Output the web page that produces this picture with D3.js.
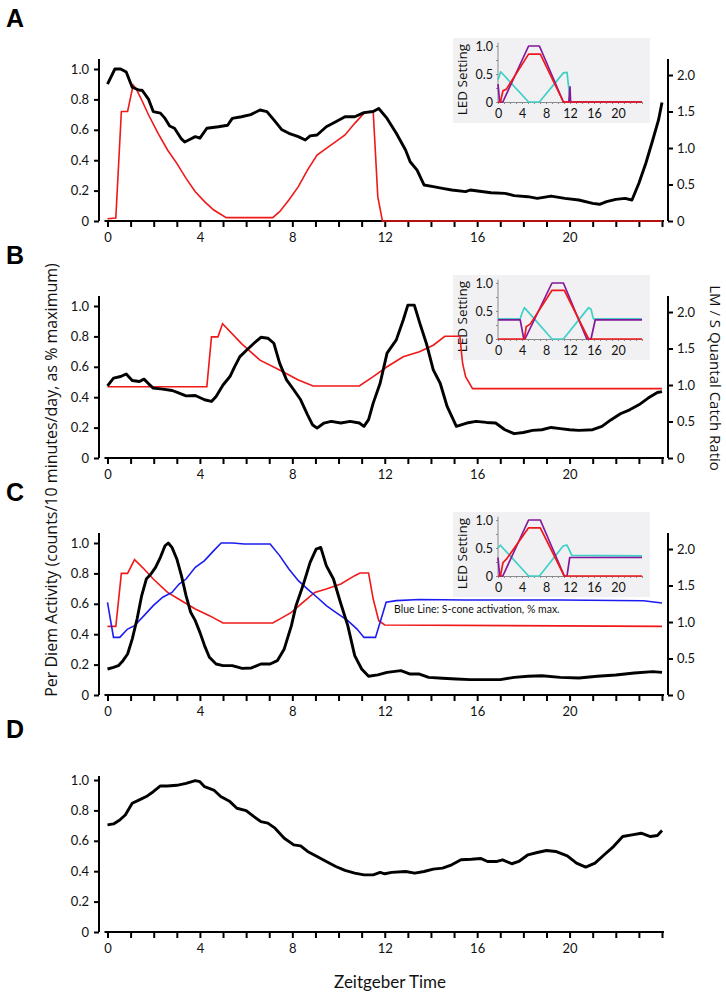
<!DOCTYPE html>
<html><head><meta charset="utf-8">
<script src="https://cdn.jsdelivr.net/npm/d3@7"></script>
<style>
body{margin:0;background:#fff;}
svg{display:block;}
</style></head><body>
<svg id="chart" width="726" height="995"></svg>
<script>
// ---------- DATA ----------
const hourLabels = [0,4,8,12,16,20];
const hourTicks = d3.range(0,25);
const leftTicks = [0,0.2,0.4,0.6,0.8,1.0];
const rightTicks = [0,0.5,1.0,1.5,2.0];
const insetYLabels = [0,0.5,1.0];
const panelLetters = ["A","B","C","D"];

// Panel A
const activityA = [[0,0.90],[0.32,1.0],[0.57,1.0],[0.81,0.98],[1.07,0.88],[1.38,0.86],[1.5,0.86],[1.78,0.80],[1.98,0.72],[2.29,0.71],[2.49,0.675],[2.69,0.625],[2.9,0.61],[3.2,0.54],[3.34,0.52],[3.6,0.54],[3.8,0.555],[4.0,0.545],[4.3,0.61],[4.8,0.62],[5.2,0.63],[5.4,0.675],[5.8,0.686],[6.2,0.70],[6.6,0.73],[6.9,0.72],[7.2,0.665],[7.55,0.60],[7.85,0.577],[8.26,0.555],[8.56,0.533],[8.77,0.56],[9.07,0.566],[9.47,0.62],[9.88,0.653],[10.28,0.686],[10.7,0.686],[11.1,0.713],[11.5,0.72],[11.74,0.74],[12.1,0.675],[12.5,0.577],[12.9,0.467],[13.1,0.39],[13.4,0.335],[13.7,0.237],[14.1,0.226],[14.5,0.215],[14.9,0.204],[15.5,0.193],[15.7,0.204],[16.6,0.186],[17.2,0.182],[17.6,0.167],[18.2,0.16],[18.6,0.149],[19.2,0.164],[19.8,0.149],[20.4,0.138],[21.0,0.116],[21.3,0.11],[21.6,0.127],[22.0,0.142],[22.4,0.149],[22.7,0.138],[23.0,0.248],[23.3,0.38],[23.6,0.533],[23.85,0.665],[24.0,0.78]];
const ratioA = [[0,0.03],[0.36,0.04],[0.6,1.5],[0.87,1.5],[1.11,1.863],[1.23,1.817],[1.48,1.658],[1.78,1.452],[2.19,1.20],[2.6,0.973],[3.0,0.79],[3.4,0.584],[3.8,0.40],[4.2,0.265],[4.6,0.15],[5.14,0.046],[7.15,0.046],[7.45,0.128],[7.85,0.288],[8.26,0.47],[8.66,0.70],[9.07,0.904],[9.47,0.995],[9.88,1.087],[10.28,1.178],[10.7,1.338],[11.1,1.475],[11.4,1.498],[11.5,1.498],[11.7,0.33],[11.9,0],[24,0]];
const insetACyan = [[0,0.4],[0.45,0.54],[5.1,0],[6.9,0],[10.9,0.52],[11.5,0.53],[12.05,0],[24,0]];
const insetAPurple = [[0,0.32],[0.28,0],[0.8,0],[5.1,1.0],[6.9,1.0],[10.9,0],[11.8,0],[12.0,0.27],[12.1,0],[24,0]];
const insetARed = [[0,0],[0.4,0],[0.83,0.2],[1.4,0.23],[5.1,0.855],[7.05,0.855],[10.9,0],[24,0]];

// Panel B
const activityB = [[0,0.475],[0.26,0.525],[0.57,0.536],[0.81,0.553],[1.07,0.51],[1.38,0.503],[1.58,0.519],[1.78,0.488],[1.98,0.46],[2.39,0.453],[2.8,0.444],[3.1,0.427],[3.4,0.409],[3.8,0.411],[4.2,0.383],[4.5,0.372],[4.7,0.405],[5.0,0.48],[5.3,0.536],[5.5,0.60],[5.73,0.667],[6.03,0.711],[6.34,0.755],[6.64,0.794],[6.94,0.788],[7.2,0.755],[7.45,0.624],[7.75,0.514],[8.06,0.449],[8.36,0.383],[8.66,0.284],[8.87,0.219],[9.07,0.197],[9.37,0.23],[9.68,0.241],[10.1,0.23],[10.5,0.241],[10.9,0.23],[11.1,0.208],[11.3,0.252],[11.5,0.361],[11.8,0.492],[12.1,0.69],[12.5,0.777],[12.8,0.908],[13.0,1.006],[13.28,1.006],[13.52,0.886],[13.8,0.755],[14.1,0.58],[14.4,0.492],[14.7,0.339],[15.1,0.208],[15.55,0.23],[15.95,0.241],[16.4,0.234],[16.8,0.23],[17.2,0.186],[17.6,0.16],[18.0,0.168],[18.4,0.182],[18.8,0.186],[19.2,0.201],[19.6,0.193],[20.0,0.186],[20.4,0.182],[21.0,0.186],[21.4,0.208],[21.8,0.252],[22.2,0.291],[22.6,0.317],[23.0,0.35],[23.4,0.394],[23.8,0.431],[24.0,0.437]];
const ratioB = [[0,0.977],[4.3,0.977],[4.5,1.66],[4.78,1.66],[4.98,1.84],[5.8,1.568],[6.6,1.34],[7.45,1.205],[8.26,1.068],[8.9,0.986],[10.9,0.986],[11.5,1.114],[12.1,1.25],[12.8,1.386],[13.5,1.455],[14.1,1.545],[14.6,1.668],[15.25,1.668],[15.37,1.295],[15.5,1.114],[15.8,0.95],[24,0.95]];
const insetBCyan = [[0,0.36],[3.7,0.36],[4.0,0.46],[4.4,0.56],[9.0,0],[10.9,0],[15.1,0.56],[15.5,0.53],[15.9,0.36],[24,0.36]];
const insetBPurple = [[0,0.34],[3.7,0.34],[4.3,0],[4.5,0],[9.0,1.0],[10.9,1.0],[14.8,0],[15.5,0],[16.2,0.34],[24,0.34]];
const insetBRed = [[0,0],[4.4,0],[4.7,0.22],[5.4,0.27],[9.0,0.87],[11.05,0.87],[15.1,0],[24,0]];

// Panel C
const activityC = [[0,0.171],[0.26,0.182],[0.47,0.193],[0.67,0.226],[0.87,0.27],[1.07,0.368],[1.28,0.5],[1.48,0.654],[1.68,0.763],[1.88,0.796],[2.08,0.84],[2.29,0.906],[2.49,0.982],[2.63,1.0],[2.79,0.971],[3.0,0.895],[3.2,0.785],[3.4,0.654],[3.6,0.544],[3.8,0.489],[4.0,0.412],[4.2,0.325],[4.41,0.248],[4.7,0.204],[5.0,0.193],[5.4,0.193],[5.83,0.175],[6.23,0.178],[6.64,0.204],[7.04,0.204],[7.35,0.226],[7.65,0.303],[7.96,0.456],[8.16,0.588],[8.46,0.72],[8.77,0.873],[9.03,0.96],[9.23,0.971],[9.47,0.851],[9.78,0.763],[10.08,0.61],[10.4,0.456],[10.7,0.259],[11.0,0.171],[11.3,0.123],[11.7,0.132],[12.1,0.149],[12.7,0.16],[13.1,0.138],[13.5,0.138],[13.9,0.116],[14.5,0.11],[15.1,0.105],[15.7,0.101],[16.4,0.101],[17.0,0.101],[17.6,0.116],[18.2,0.123],[18.8,0.127],[19.6,0.116],[20.4,0.112],[21.2,0.123],[22.0,0.132],[22.8,0.145],[23.6,0.154],[24.0,0.149]];
const sconeC = [[0,0.61],[0.26,0.379],[0.53,0.379],[0.87,0.434],[1.17,0.456],[1.58,0.522],[1.98,0.588],[2.39,0.643],[2.79,0.675],[3.1,0.73],[3.4,0.763],[3.8,0.84],[4.2,0.884],[4.6,0.95],[4.92,1.0],[5.4,1.0],[5.93,0.993],[7.04,0.993],[7.45,0.917],[7.85,0.829],[8.26,0.752],[8.66,0.697],[9.07,0.643],[9.47,0.588],[9.88,0.544],[10.4,0.489],[10.8,0.434],[11.1,0.379],[11.6,0.379],[11.8,0.478],[12.06,0.61],[12.5,0.621],[13.5,0.628],[15.5,0.625],[17.6,0.625],[19.6,0.625],[23.2,0.62],[24,0.605]];
const ratioC = [[0,0.94],[0.36,0.94],[0.6,1.667],[0.87,1.667],[1.17,1.854],[1.58,1.726],[1.98,1.589],[2.6,1.406],[3.2,1.292],[3.8,1.178],[4.41,1.087],[5.0,0.986],[7.15,0.986],[7.45,1.04],[7.96,1.132],[8.46,1.27],[8.97,1.406],[9.47,1.452],[10.1,1.52],[10.7,1.635],[10.93,1.671],[11.3,1.671],[11.5,1.315],[11.74,1.018],[12.0,0.959],[24,0.94]];
const insetCCyan = [[0,0.5],[0.4,0.55],[5.1,0],[6.9,0],[10.9,0.54],[11.5,0.55],[12.3,0.37],[24,0.36]];
const insetCPurple = [[0,0.33],[0.28,0],[0.8,0],[5.1,1.0],[7.05,1.0],[11.05,0],[11.5,0],[11.95,0.33],[24,0.33]];
const insetCRed = [[0,0],[0.4,0],[0.83,0.24],[1.4,0.3],[5.1,0.86],[7.05,0.86],[11.05,0],[24,0]];

// Panel D
const activityD = [[0,0.705],[0.26,0.711],[0.53,0.737],[0.77,0.77],[1.07,0.847],[1.38,0.869],[1.68,0.891],[1.98,0.923],[2.29,0.961],[2.59,0.961],[3.0,0.965],[3.4,0.978],[3.8,0.996],[4.0,0.989],[4.2,0.956],[4.6,0.934],[4.9,0.891],[5.3,0.858],[5.6,0.814],[6.0,0.799],[6.34,0.759],[6.64,0.726],[6.94,0.716],[7.25,0.683],[7.65,0.617],[8.06,0.573],[8.36,0.567],[8.66,0.53],[9.07,0.497],[9.47,0.464],[9.88,0.431],[10.28,0.405],[10.7,0.387],[11.1,0.376],[11.5,0.376],[11.8,0.392],[12.0,0.383],[12.3,0.392],[12.9,0.398],[13.3,0.387],[13.7,0.398],[14.1,0.414],[14.5,0.42],[14.9,0.442],[15.3,0.475],[15.75,0.479],[16.15,0.484],[16.45,0.464],[16.86,0.464],[17.1,0.475],[17.5,0.449],[17.8,0.464],[18.2,0.508],[18.6,0.523],[19.0,0.536],[19.4,0.53],[19.9,0.501],[20.3,0.453],[20.7,0.427],[21.1,0.453],[21.5,0.508],[21.9,0.562],[22.3,0.628],[22.7,0.639],[23.1,0.65],[23.5,0.628],[23.8,0.635],[24.0,0.667]];

const leftAxisTitle = "Per Diem Activity (counts/10 minutes/day, as % maximum)";
const rightAxisTitle = "LM / S Quantal Catch Ratio";
const xAxisTitle = "Zeitgeber Time";
const insetTitle = "LED Setting";
const blueNote = "Blue Line: S-cone activation, % max.";

// ---------- STYLE / LAYOUT ----------
const C = {black:"#000", red:"#f01818", blue:"#1c1cf0", purple:"#85179b", cyan:"#3fcfc6", insetBg:"#f1f1f3", insetAxis:"#8a8a8a"};
const numFont = "Lato, 'Liberation Sans', sans-serif";
const titleFont = "'Open Sans', 'Liberation Sans', sans-serif";

const svg = d3.select("#chart");
const x = d3.scaleLinear().domain([0,24]).range([107.5,662]);
const xi = d3.scaleLinear().domain([0,24]).range([498,642]);

const panels = [
  {letter:"A", zero:221, top:1.066, black:activityA, red:ratioA, inset:[insetACyan,insetAPurple,insetARed]},
  {letter:"B", zero:458, top:1.066, black:activityB, red:ratioB, inset:[insetBCyan,insetBPurple,insetBRed]},
  {letter:"C", zero:695, top:1.066, black:activityC, red:ratioC, blue:sconeC, inset:[insetCCyan,insetCPurple,insetCRed]},
  {letter:"D", zero:932, top:1.026, black:activityD}
];

const fmtL = d => d===0 ? "0" : d3.format(".1f")(d);

panels.forEach(p => {
  const g = svg.append("g");
  const unit = 152;
  const yL = d3.scaleLinear().domain([0,p.top]).range([p.zero, p.zero - unit*p.top]);
  const yR = d3.scaleLinear().domain([0,2.22]).range([p.zero, p.zero - unit*p.top]);

  // panel letter
  g.append("text").attr("x",6).attr("y",p.zero-194)
    .attr("font-family","'Liberation Sans', Arial, sans-serif").attr("font-weight","bold")
    .attr("font-size",25).text(p.letter);

  // inset
  if (p.inset) {
    const ig = g.append("g");
    const yi = d3.scaleLinear().domain([0,1]).range([p.zero-119, p.zero-175]);
    ig.append("rect").attr("x",453).attr("y",p.zero-183).attr("width",197).attr("height",85).attr("fill",C.insetBg);
    const ixAxis = d3.axisBottom(xi).tickValues(hourTicks).tickSize(2).tickSizeOuter(0)
      .tickFormat(d => hourLabels.includes(d) && d<24 ? d : "");
    const ixg = ig.append("g").attr("transform",`translate(0,${yi(0)})`).call(ixAxis);
    const iyAxis = d3.axisLeft(yi).tickValues([0,0.25,0.5,0.75,1.0]).tickSize(2).tickSizeOuter(0)
      .tickFormat(d => insetYLabels.includes(d) ? (d===0?"0":d3.format(".1f")(d)) : "");
    const iyg = ig.append("g").attr("transform",`translate(${xi(0)},0)`).call(iyAxis);
    iyg.select(".domain").attr("d",`M0,${yi(1.06)}V${yi(0)}`);
    [ixg,iyg].forEach(a => {
      a.select(".domain").attr("stroke",C.insetAxis).attr("stroke-width",1);
      a.selectAll(".tick line").attr("stroke",C.insetAxis);
      a.selectAll("text").attr("font-family",numFont).attr("font-size",12.5).attr("fill","#111");
    });
    ixg.selectAll("text").attr("dy","0.85em");
    ig.append("text").attr("transform",`translate(467,${yi(0.4)}) rotate(-90)`)
      .attr("text-anchor","middle").attr("font-family",titleFont).attr("font-size",13.5).attr("fill","#111").text(insetTitle);
    const il = d3.line().x(d=>xi(d[0])).y(d=>yi(d[1]));
    const cols = [C.cyan, C.purple, C.red];
    p.inset.forEach((s,i) => {
      ig.append("path").datum(s).attr("d",il).attr("fill","none").attr("stroke",cols[i]).attr("stroke-width",1.7).attr("stroke-linejoin","round");
    });
  }

  // axes
  const xAxis = d3.axisBottom(x).tickValues(hourTicks).tickSize(6).tickSizeOuter(0).tickPadding(6)
    .tickFormat(d => hourLabels.includes(d) ? d : "");
  const xg = g.append("g").attr("transform",`translate(0,${p.zero})`).call(xAxis);
  xg.select(".domain").attr("d",`M${x(0)-3},0H${x(24)+2}`);
  const yAxis = d3.axisLeft(yL).tickValues(leftTicks).tickSize(5).tickSizeOuter(0).tickPadding(5).tickFormat(fmtL);
  const yg = g.append("g").attr("transform",`translate(99,0)`).call(yAxis);
  yg.select(".domain").attr("d",`M0,${yL(p.top)}V${yL(0)}`);
  const axes = [xg,yg];
  if (p.red) {
    const rAxis = d3.axisRight(yR).tickValues(rightTicks).tickSize(5).tickSizeOuter(0).tickPadding(4).tickFormat(fmtL);
    const rg = g.append("g").attr("transform",`translate(668,0)`).call(rAxis);
    rg.select(".domain").attr("d",`M0,${yR(2.22)}V${yR(0)}`);
    axes.push(rg);
  }
  axes.forEach(a => {
    a.select(".domain").attr("stroke","#000").attr("stroke-width",2);
    a.selectAll(".tick line").attr("stroke","#000").attr("stroke-width",2);
    a.selectAll("text").attr("font-family",numFont).attr("font-size",13).attr("fill","#111");
  });

  // data lines
  const lineR = d3.line().x(d=>x(d[0])).y(d=>yR(d[1]));
  const lineL = d3.line().x(d=>x(d[0])).y(d=>yL(d[1]));
  if (p.red) g.append("path").datum(p.red).attr("d",lineR).attr("fill","none").attr("stroke",C.red).attr("stroke-width",1.6);
  if (p.blue) g.append("path").datum(p.blue).attr("d",lineL).attr("fill","none").attr("stroke",C.blue).attr("stroke-width",1.6);
  g.append("path").datum(p.black).attr("d",lineL).attr("fill","none").attr("stroke",C.black).attr("stroke-width",2.9).attr("stroke-linejoin","round");

  if (p.blue) {
    g.append("text").attr("x",x(12.4)).attr("y",yL(0.6)+6).attr("dy","0.35em")
      .attr("font-family",numFont).attr("font-size",10.5).attr("fill","#111").text(blueNote);
  }
});

// axis titles
svg.append("text").attr("transform","translate(57,480) rotate(-90)").attr("text-anchor","middle")
  .attr("font-family",titleFont).attr("font-size",16).attr("fill","#111").text(leftAxisTitle);
svg.append("text").attr("transform","translate(710,378) rotate(90)").attr("text-anchor","middle")
  .attr("font-family",titleFont).attr("font-size",15).attr("fill","#111").text(rightAxisTitle);
svg.append("text").attr("x",390).attr("y",988).attr("text-anchor","middle")
  .attr("font-family",numFont).attr("font-size",17).attr("fill","#111").text(xAxisTitle);
</script>
</body></html>
